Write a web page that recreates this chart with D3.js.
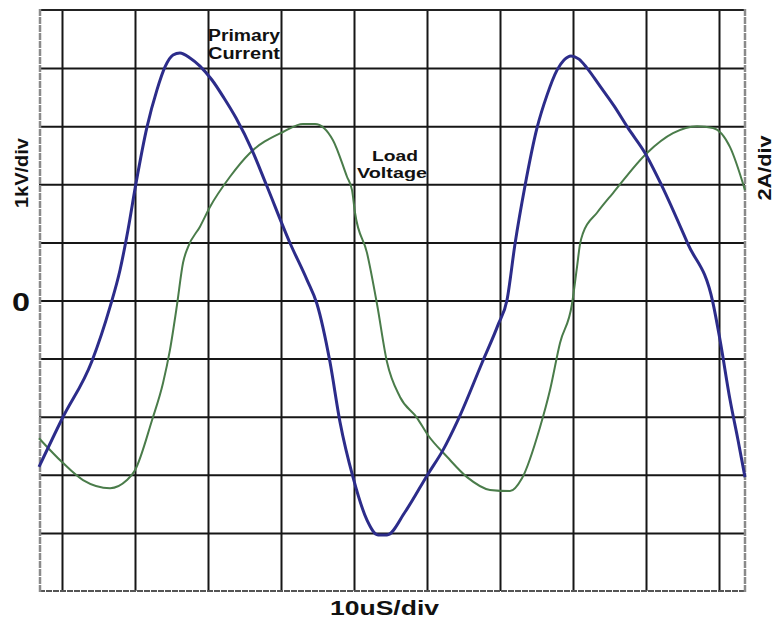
<!DOCTYPE html>
<html>
<head>
<meta charset="utf-8">
<script src="https://cdn.jsdelivr.net/npm/d3@7"></script>
<style>
  body { margin: 0; background: #fff; }
  svg { display: block; }
  text { font-family: "Liberation Sans", Arial, sans-serif; font-weight: bold; fill: #111; }
</style>
</head>
<body>
<div id="chart"></div>
<script>
// grid ticks (10uS/div, 1kV/div)
var timeTicks = [0, 10, 20, 30, 40, 50, 60, 70, 80, 90];
var voltTicks = [-4, -3, -2, -1, 0, 1, 2, 3, 4];

// Primary Current (A), 2A/div
var currentTime = [-3.15, 0, 4.11, 6.58, 7.95, 9.04, 10.14, 11.64, 13.01, 14.11, 15.21, 16.16, 17.53, 18.90,
  20.55, 22.19, 23.84, 26.03, 27.95, 31.23, 33.56, 34.93, 36.71, 38.08, 39.86, 41.78, 43.29, 44.52,
  46.99, 50.14, 52.19, 54.25, 57.53, 59.73, 60.96, 62.05, 63.42, 65.07, 66.44, 67.81, 68.77, 69.73,
  70.82, 71.92, 73.70, 75.62, 77.53, 79.86, 82.19, 85.75, 89.18, 90.14, 91.51, 92.60, 93.56];
var currentAmps = [-5.73, -4.08, -2.08, -0.22, 1.05, 2.43, 4.04, 5.97, 7.25, 8.04, 8.45, 8.52, 8.35, 8.07,
  7.59, 6.97, 6.28, 5.18, 4.01, 1.98, 0.71, -0.12, -2.12, -4.18, -6.08, -7.56, -8.07, -8.07,
  -7.28, -5.97, -5.15, -4.11, -2.15, -0.84, 0.02, 1.94, 3.94, 5.94, 7.07, 7.93, 8.28, 8.42,
  8.31, 8.00, 7.38, 6.70, 5.94, 5.08, 3.94, 1.94, -0.09, -1.36, -3.42, -4.80, -6.08];

// Load Voltage (kV), 1kV/div
var voltageTime = [-3.15, 0, 2.88, 6.58, 8.90, 10.00, 12.33, 13.84, 14.79, 15.75, 16.58, 17.26, 18.90, 20.27,
  23.01, 25.75, 30.27, 33.01, 34.66, 37.12, 39.04, 39.73, 40.14, 41.78, 43.15, 44.52, 46.30, 48.63, 50.14,
  52.74, 55.48, 58.63, 61.37, 63.01, 65.48, 66.85, 68.22, 69.86, 70.55, 70.96, 71.37, 73.29, 75.48, 80.14,
  83.70, 86.99, 89.18, 91.51, 93.56];
var voltageKV = [-2.37, -2.78, -3.09, -3.23, -3.09, -2.92, -2.06, -1.42, -0.85, -0.08, 0.65, 0.92, 1.27, 1.61,
  2.13, 2.54, 2.90, 3.04, 3.04, 2.76, 2.13, 1.90, 1.51, 0.82, -0.06, -1.06, -1.66, -2.02, -2.32,
  -2.69, -3.04, -3.26, -3.28, -3.06, -2.18, -1.54, -0.73, -0.06, 0.58, 0.97, 1.16, 1.51, 1.85, 2.54,
  2.88, 3.00, 2.97, 2.64, 1.90];

var svg = d3.select("#chart").append("svg")
    .attr("width", 776)
    .attr("height", 620);

var x = d3.scaleLinear().domain([-3.15, 93.56]).range([39, 745]);
var yV = d3.scaleLinear().domain([-5, 5]).range([591, 10]);
var yA = d3.scaleLinear().domain([-10, 10]).range([591, 10]);

// grid lines from axes
svg.append("g")
    .attr("transform", "translate(0,591)")
    .call(d3.axisBottom(x).tickValues(timeTicks).tickSize(-581).tickFormat(""));
svg.append("g")
    .attr("transform", "translate(39,0)")
    .call(d3.axisLeft(yV).tickValues(voltTicks).tickSize(-706).tickFormat(""));
svg.selectAll(".domain").remove();
svg.selectAll(".tick line")
    .attr("stroke", "#161616")
    .attr("stroke-width", 2);

// frame
svg.append("line").attr("x1", 39).attr("x2", 746).attr("y1", 10).attr("y2", 10)
    .attr("stroke", "#222").attr("stroke-width", 2);
svg.append("line").attr("x1", 39).attr("x2", 746).attr("y1", 591).attr("y2", 591)
    .attr("stroke", "#555").attr("stroke-width", 2).attr("stroke-dasharray", "6,1");
svg.append("line").attr("x1", 40).attr("x2", 40).attr("y1", 9).attr("y2", 592)
    .attr("stroke", "#8a8a8a").attr("stroke-width", 2.5).attr("stroke-dasharray", "7,1");
svg.append("line").attr("x1", 745).attr("x2", 745).attr("y1", 9).attr("y2", 592)
    .attr("stroke", "#8a8a8a").attr("stroke-width", 2.5).attr("stroke-dasharray", "7,1");

// traces
var voltLine = d3.line()
    .x(function(d, i) { return x(voltageTime[i]); })
    .y(function(d) { return yV(d); })
    .curve(d3.curveMonotoneX);
var currLine = d3.line()
    .x(function(d, i) { return x(currentTime[i]); })
    .y(function(d) { return yA(d); })
    .curve(d3.curveMonotoneX);

svg.append("path").datum(voltageKV)
    .attr("d", voltLine)
    .attr("fill", "none")
    .attr("stroke", "#4a7c4a")
    .attr("stroke-width", 2);
svg.append("path").datum(currentAmps)
    .attr("d", currLine)
    .attr("fill", "none")
    .attr("stroke", "#2c2c8a")
    .attr("stroke-width", 3);

// labels
function label(txt, px, py, size, len) {
    return svg.append("text")
        .attr("x", px).attr("y", py)
        .attr("font-size", size)
        .attr("textLength", len)
        .attr("lengthAdjust", "spacingAndGlyphs")
        .text(txt);
}
label("Primary", 208, 41, 16, 72);
label("Current", 208, 59, 16, 72);
label("Load", 372, 161, 15, 46);
label("Voltage", 357, 178, 15, 70);
label("10uS/div", 330, 615, 21, 109);
label("0", 12, 311, 26, 18);

svg.append("text")
    .attr("transform", "translate(28,173) rotate(-90)")
    .attr("text-anchor", "middle")
    .attr("font-size", 19)
    .attr("textLength", 70)
    .attr("lengthAdjust", "spacingAndGlyphs")
    .text("1kV/div");
svg.append("text")
    .attr("transform", "translate(771,168) rotate(-90)")
    .attr("text-anchor", "middle")
    .attr("font-size", 19)
    .attr("textLength", 65)
    .attr("lengthAdjust", "spacingAndGlyphs")
    .text("2A/div");
</script>
</body>
</html>
